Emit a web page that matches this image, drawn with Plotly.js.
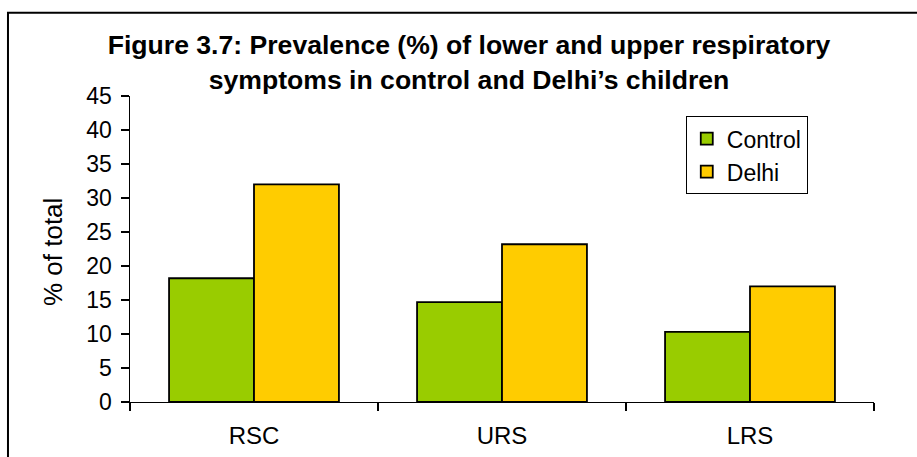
<!DOCTYPE html>
<html>
<head>
<meta charset="utf-8">
<script src="https://cdn.plot.ly/plotly-3.0.1.min.js"></script>
<style>html,body{margin:0;padding:0;background:#fff;}#chart{width:917px;height:457px;}</style>
</head>
<body>
<div id="chart"></div>
<script>
const categories = ["RSC", "URS", "LRS"];
const controlValues = [18.2, 14.7, 10.3];
const delhiValues = [32.0, 23.2, 17.0];
const seriesNames = ["Control", "Delhi"];
const yTickValues = [0, 5, 10, 15, 20, 25, 30, 35, 40, 45];

const font = "Liberation Sans, Arial, sans-serif";

const traces = [
  {type: "bar", name: seriesNames[0], x: categories, y: controlValues,
   marker: {color: "#99CC00", line: {color: "#000", width: 1.8}}},
  {type: "bar", name: seriesNames[1], x: categories, y: delhiValues,
   marker: {color: "#FFCC00", line: {color: "#000", width: 1.8}}}
];

const layout = {
  width: 917, height: 457,
  margin: {l: 130, r: 43, t: 96, b: 55},
  paper_bgcolor: "#fff", plot_bgcolor: "#fff",
  font: {family: font, color: "#000", size: 24},
  barmode: "group", bargap: 0.315, bargroupgap: 0,
  title: {
    text: "<b>Figure 3.7: Prevalence (%) of lower and upper respiratory<br>symptoms in control and Delhi’s children</b>",
    font: {family: font, size: 26.6, color: "#000"},
    x: 469 / 917, xanchor: "center", xref: "container",
    y: 1 - 54 / 457, yanchor: "middle", yref: "container"
  },
  xaxis: {
    showline: true, linecolor: "#000", linewidth: 1,
    ticks: "outside", tickson: "boundaries", ticklen: 8, tickwidth: 1.5, tickcolor: "#000",
    ticklabelstandoff: 12,
    tickfont: {family: font, size: 24}, showgrid: false, zeroline: false
  },
  yaxis: {
    range: [0, 45], tickvals: yTickValues, showline: true, linecolor: "#000", linewidth: 1.5,
    ticks: "outside", ticklen: 8, tickwidth: 1.5, tickcolor: "#000",
    ticklabelstandoff: 4,
    tickfont: {family: font, size: 23}, showgrid: false, zeroline: false
  },
  showlegend: true,
  legend: {
    x: 0.747, y: 0.934, xanchor: "left", yanchor: "top",
    bordercolor: "#000", borderwidth: 1, bgcolor: "#fff",
    font: {family: font, size: 23}, tracegroupgap: 0
  },
  annotations: [{
    text: "% of total", textangle: -90, showarrow: false,
    xref: "paper", yref: "paper", x: -0.1035, y: 0.49, xanchor: "center", yanchor: "middle",
    font: {family: font, size: 26}
  }],
  shapes: [{
    type: "rect", xref: "paper", yref: "paper",
    x0: -0.164, x1: 1.07, y0: -0.2, y1: 1.272,
    line: {color: "#000", width: 2}
  }]
};

Plotly.newPlot("chart", traces, layout, {displayModeBar: false, staticPlot: true});
</script>
</body>
</html>
